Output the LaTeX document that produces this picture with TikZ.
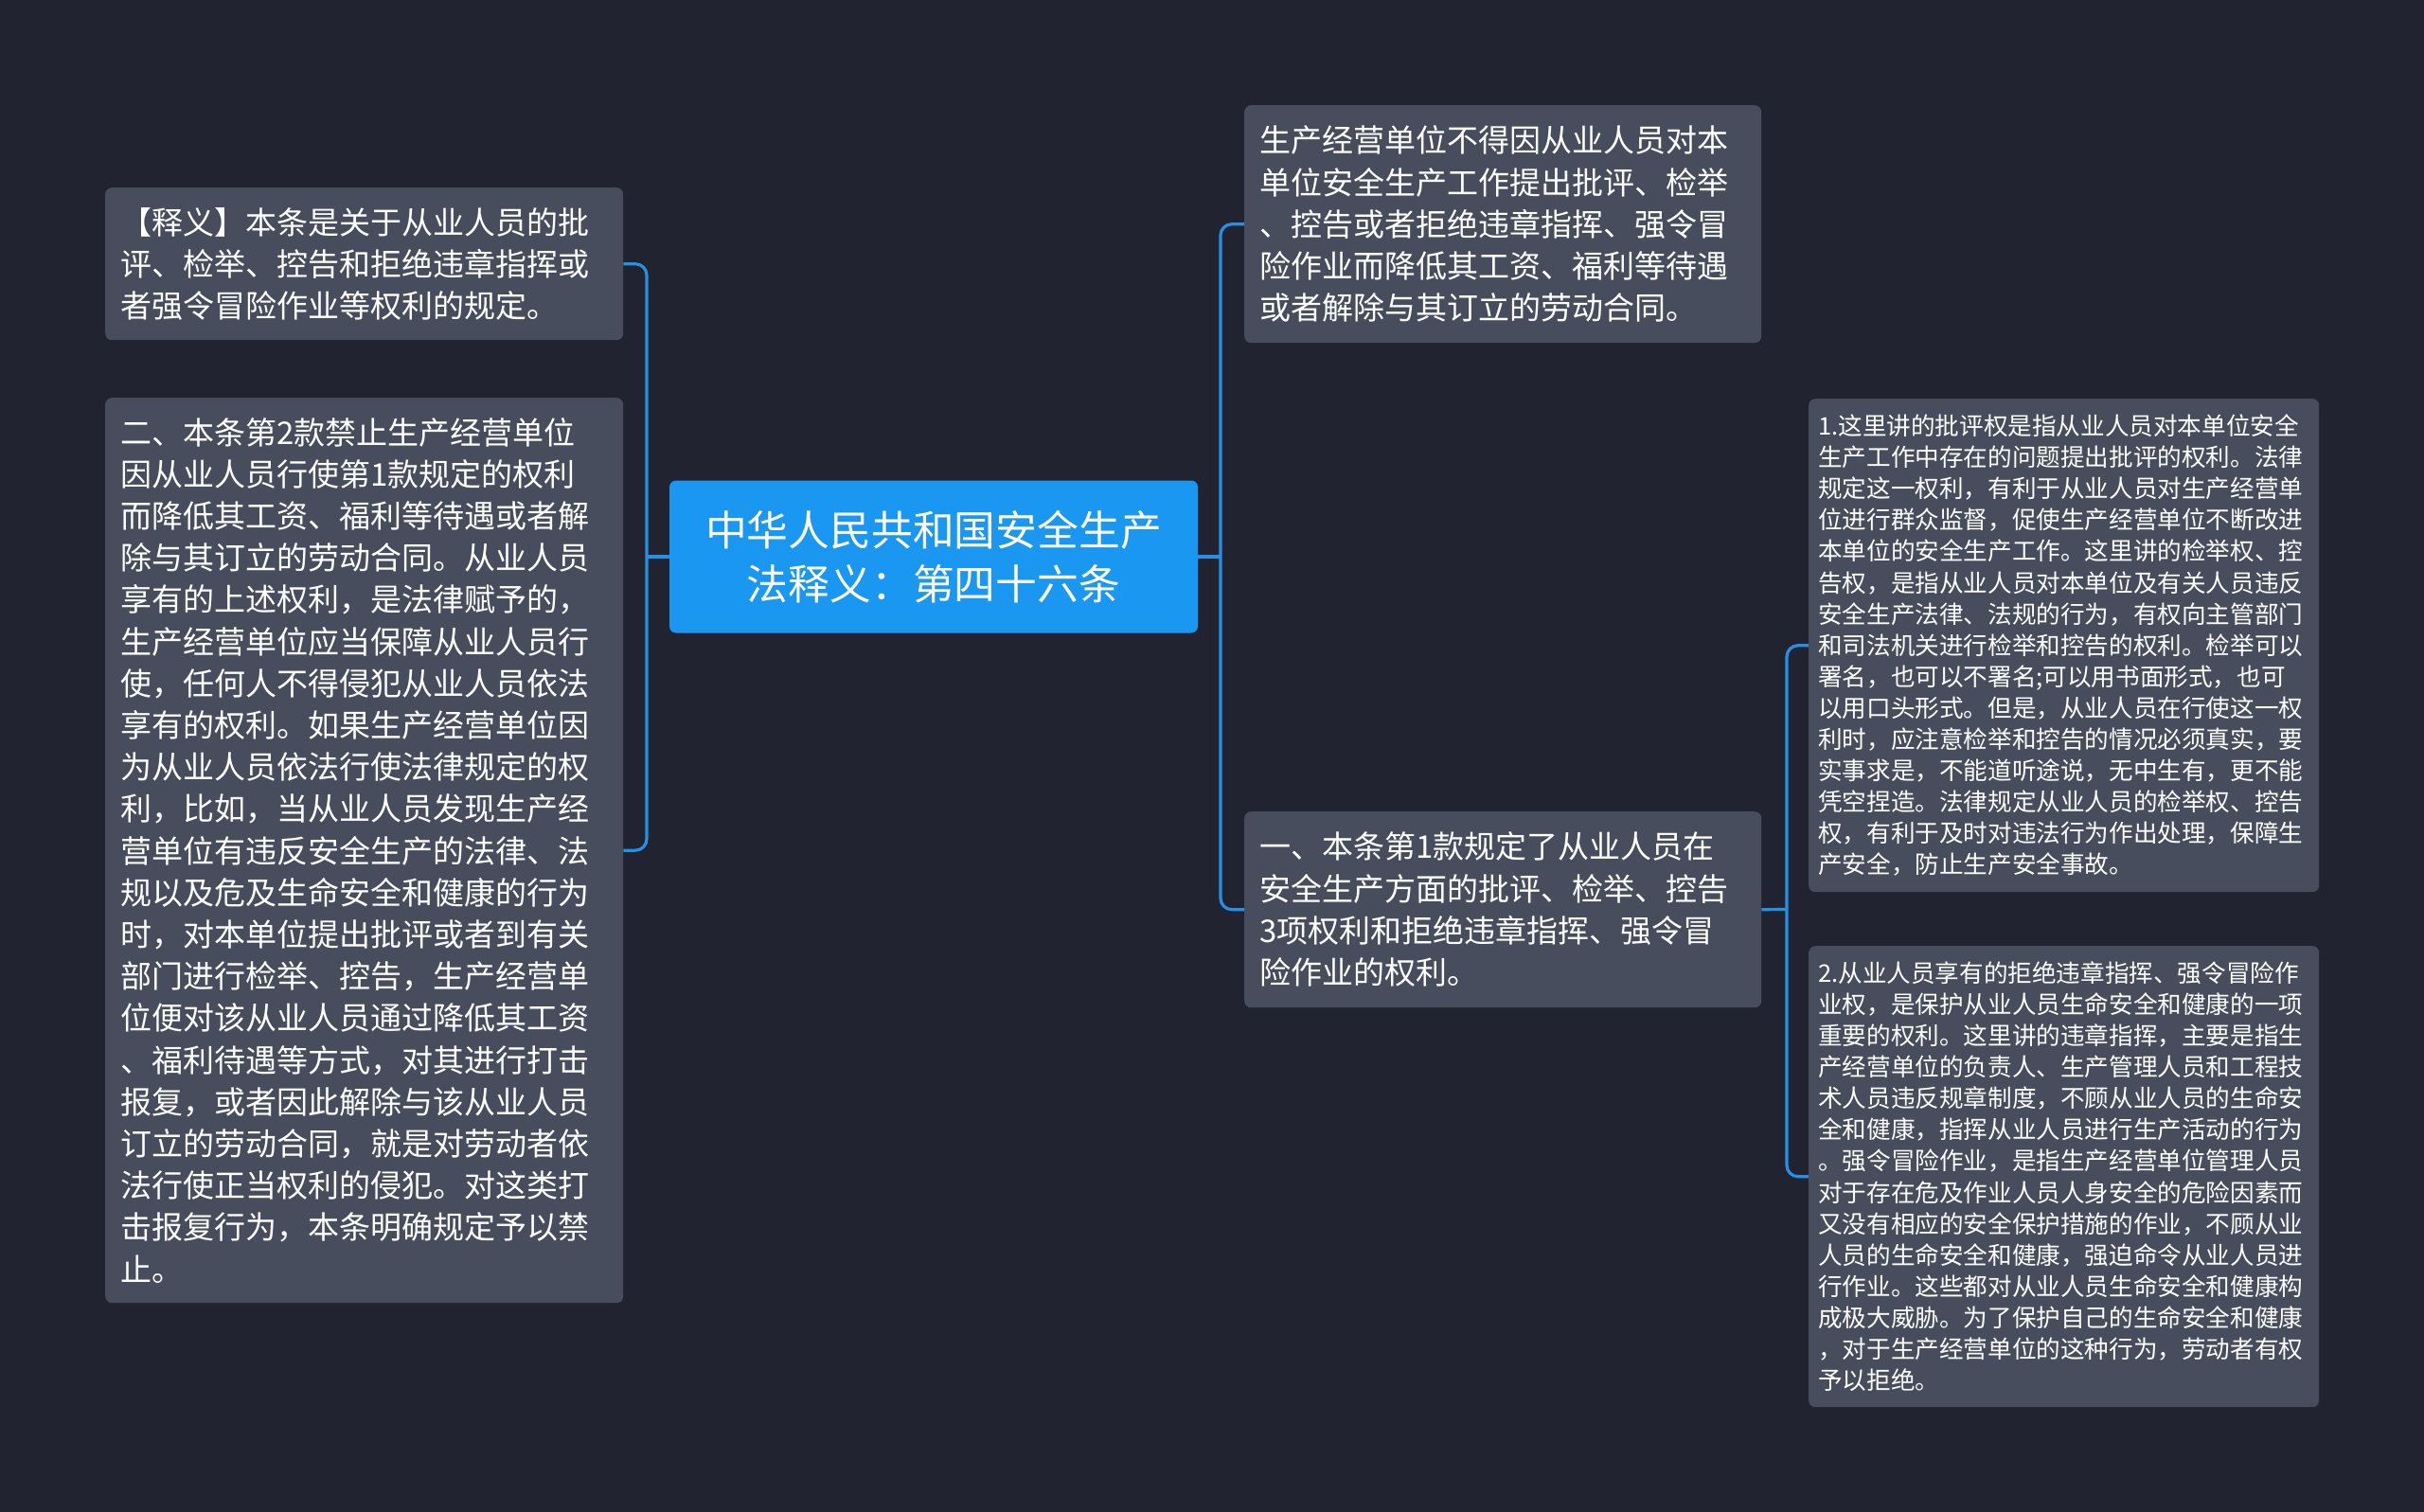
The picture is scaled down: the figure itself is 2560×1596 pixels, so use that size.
\documentclass[tikz,border=0pt]{standalone}
\usepackage{fontspec}
\setmainfont{Noto Sans CJK SC}
\usetikzlibrary{positioning}

\definecolor{bgdark}{RGB}{33,36,48}
\definecolor{cardgray}{RGB}{71,77,92}
\definecolor{rootblue}{RGB}{26,151,240}
\definecolor{linkblue}{RGB}{36,145,230}

\begin{document}
\begin{tikzpicture}[
        x=1pt, y=-1pt,
        card/.style={rectangle, anchor=north west, fill=cardgray, rounded corners=7pt, text=white,
                     align=left, inner xsep=16pt, inner ysep=0pt},
        bigtext/.style={font=\fontsize{33}{44.2}\selectfont},
        smalltext/.style={font=\fontsize{25.6}{33.1}\selectfont, inner xsep=10pt},
        root/.style={rectangle, fill=rootblue, rounded corners=7pt, text=white, align=center,
                     font=\fontsize{43.8}{57}\selectfont, minimum width=558pt, minimum height=161pt},
        link/.style={draw=linkblue, line width=3.2pt},
        elbow/.style={link, rounded corners=12pt}
    ]

        % --- CANVAS ---
        \useasboundingbox (0,0) rectangle (2560,1596);
        \fill[bgdark] (-8,-8) rectangle (2568,1604);

        % --- ROOT ---
        \node[root] (root) at (986,588) {中华人民共和国安全生产\\法释义：第四十六条};

        % --- LEFT BRANCH ---
        \node[card, bigtext, text width=515pt, minimum height=161pt] (defn) at (111,198)
            {【释义】本条是关于从业人员的批\\评、检举、控告和拒绝违章指挥或\\者强令冒险作业等权利的规定。};

        \node[card, bigtext, text width=515pt, minimum height=956pt] (para2) at (111,420)
            {二、本条第2款禁止生产经营单位\\因从业人员行使第1款规定的权利\\而降低其工资、福利等待遇或者解\\除与其订立的劳动合同。从业人员\\享有的上述权利，是法律赋予的，\\生产经营单位应当保障从业人员行\\使，任何人不得侵犯从业人员依法\\享有的权利。如果生产经营单位因\\为从业人员依法行使法律规定的权\\利，比如，当从业人员发现生产经\\营单位有违反安全生产的法律、法\\规以及危及生命安全和健康的行为\\时，对本单位提出批评或者到有关\\部门进行检举、控告，生产经营单\\位便对该从业人员通过降低其工资\\、福利待遇等方式，对其进行打击\\报复，或者因此解除与该从业人员\\订立的劳动合同，就是对劳动者依\\法行使正当权利的侵犯。对这类打\\击报复行为，本条明确规定予以禁\\止。};

        % --- RIGHT BRANCH ---
        \node[card, bigtext, text width=514pt, minimum height=251pt] (rtop) at (1314,111)
            {生产经营单位不得因从业人员对本\\单位安全生产工作提出批评、检举\\、控告或者拒绝违章指挥、强令冒\\险作业而降低其工资、福利等待遇\\或者解除与其订立的劳动合同。};

        \node[card, bigtext, text width=514pt, minimum height=207pt] (para1) at (1314,857)
            {一、本条第1款规定了从业人员在\\安全生产方面的批评、检举、控告\\3项权利和拒绝违章指挥、强令冒\\险作业的权利。};

        % --- DETAIL ITEMS ---
        \node[card, smalltext, text width=519pt, minimum height=521pt] (item1) at (1910,421)
            {1.这里讲的批评权是指从业人员对本单位安全\\生产工作中存在的问题提出批评的权利。法律\\规定这一权利，有利于从业人员对生产经营单\\位进行群众监督，促使生产经营单位不断改进\\本单位的安全生产工作。这里讲的检举权、控\\告权，是指从业人员对本单位及有关人员违反\\安全生产法律、法规的行为，有权向主管部门\\和司法机关进行检举和控告的权利。检举可以\\署名，也可以不署名;可以用书面形式，也可\\以用口头形式。但是，从业人员在行使这一权\\利时，应注意检举和控告的情况必须真实，要\\实事求是，不能道听途说，无中生有，更不能\\凭空捏造。法律规定从业人员的检举权、控告\\权，有利于及时对违法行为作出处理，保障生\\产安全，防止生产安全事故。};

        \node[card, smalltext, text width=519pt, minimum height=487pt] (item2) at (1910,999)
            {2.从业人员享有的拒绝违章指挥、强令冒险作\\业权，是保护从业人员生命安全和健康的一项\\重要的权利。这里讲的违章指挥，主要是指生\\产经营单位的负责人、生产管理人员和工程技\\术人员违反规章制度，不顾从业人员的生命安\\全和健康，指挥从业人员进行生产活动的行为\\。强令冒险作业，是指生产经营单位管理人员\\对于存在危及作业人员人身安全的危险因素而\\又没有相应的安全保护措施的作业，不顾从业\\人员的生命安全和健康，强迫命令从业人员进\\行作业。这些都对从业人员生命安全和健康构\\成极大威胁。为了保护自己的生命安全和健康\\，对于生产经营单位的这种行为，劳动者有权\\予以拒绝。};

        % --- CONNECTIONS ---
        \coordinate (lspine) at (683,588);
        \coordinate (rspine) at (1289,588);
        \coordinate (sspine) at (1887,960.5);

        \draw[link] (root.west) -- (lspine);
        \draw[elbow] (lspine) |- (defn.east);
        \draw[elbow] (lspine) |- (para2.east);

        \draw[link] (root.east) -- (rspine);
        \draw[elbow] (rspine) |- (rtop.west);
        \draw[elbow] (rspine) |- (para1.west);

        \draw[link] (para1.east) -- (sspine);
        \draw[elbow] (sspine) |- (item1.west);
        \draw[elbow] (sspine) |- (item2.west);

    \end{tikzpicture}
\end{document}
